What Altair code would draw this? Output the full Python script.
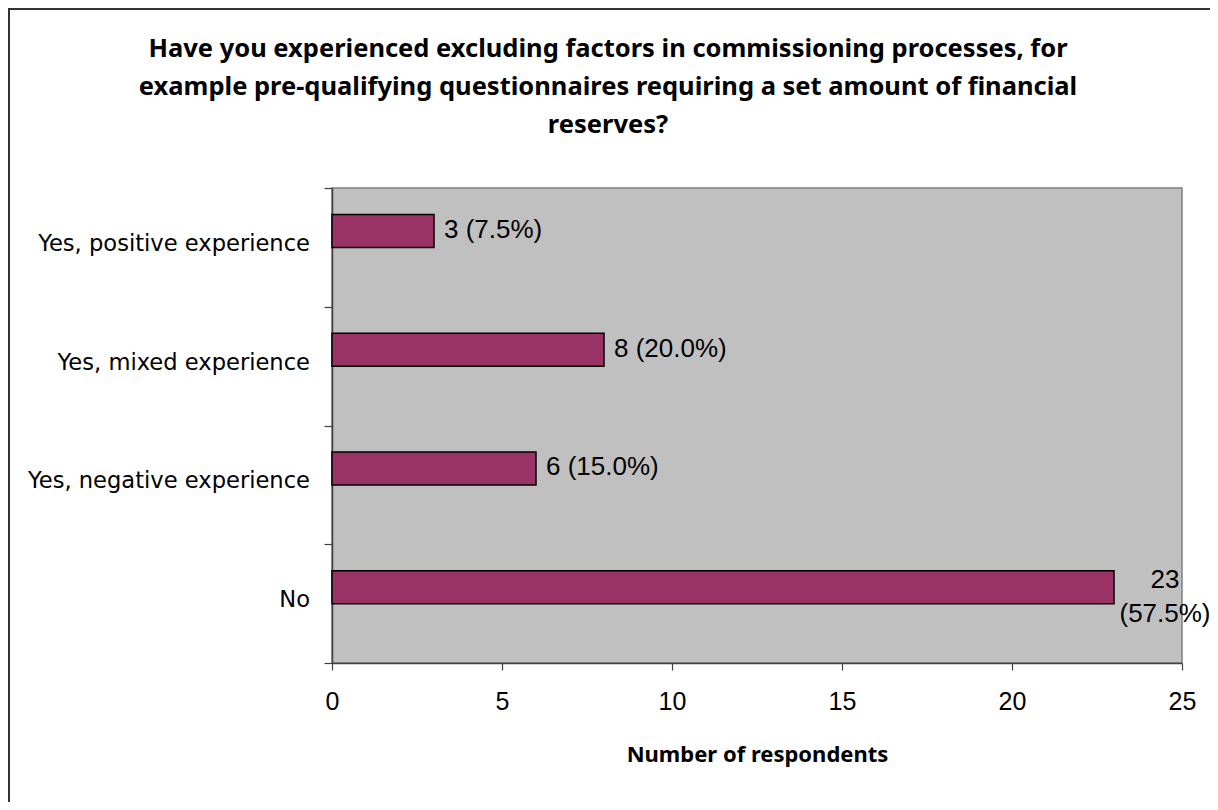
import altair as alt
import pandas as pd

# ---- data ----
categories = ["Yes, positive experience", "Yes, mixed experience",
              "Yes, negative experience", "No"]
counts = [3, 8, 6, 23]
percents = [7.5, 20.0, 15.0, 57.5]
wrapped = [False, False, False, True]
x_ticks = [0, 5, 10, 15, 20, 25]
title_lines = [
    "Have you experienced excluding factors in commissioning processes, for",
    "example pre-qualifying questionnaires requiring a set amount of financial",
    "reserves?",
]
x_title = "Number of respondents"

# ---- layout ----
W, H = 850, 475
PAD_L, PAD_T, PAD_R, PAD_B = 324, 180, 28, 139
BAR_COLOR = "#993366"
BAR_SHIFT = -16.5

labels = [f"{c} ({p:.1f}%)" for c, p in zip(counts, percents)]
labels_wrapped = [f"{c}\n({p:.1f}%)" for c, p in zip(counts, percents)]
df = pd.DataFrame({
    "category": categories,
    "count": counts,
    "label": labels,
    "label_wrapped": labels_wrapped,
    "wrapped": wrapped,
})

y_enc = alt.Y("category:N", sort=categories,
              scale=alt.Scale(paddingInner=0, paddingOuter=0),
              axis=alt.Axis(title=None, labels=False, domain=True, ticks=True,
                            tickBand="extent", tickSize=8,
                            tickColor="#404040", domainColor="#404040",
                            domainWidth=1.5, tickWidth=1.2, grid=False))
x_enc = alt.X("count:Q", scale=alt.Scale(domain=[0, 25], nice=False, zero=True),
              axis=alt.Axis(values=x_ticks, title=x_title, grid=False,
                            tickSize=7, tickColor="#404040",
                            domainColor="#404040", domainWidth=1.5, tickWidth=1.2,
                            labelFont="Liberation Sans", labelFontSize=25,
                            labelColor="black", labelBaseline="alphabetic",
                            labelPadding=39, labelFlush=False,
                            titleFont="Noto Sans", titleFontSize=22,
                            titleFontWeight="bold", titleColor="black",
                            titleBaseline="alphabetic", titleY=98))

base = alt.Chart(df)

bars = base.mark_bar(size=33, color=BAR_COLOR, stroke="black", strokeWidth=1.5,
                     yOffset=BAR_SHIFT).encode(x=x_enc, y=y_enc)

text_plain = base.transform_filter("!datum.wrapped").mark_text(
    align="left", baseline="middle", dx=10, yOffset=BAR_SHIFT - 1,
    font="Liberation Sans", fontSize=26, color="black"
).encode(x="count:Q", y=alt.Y("category:N", sort=categories), text="label:N")

text_wrap = base.transform_filter("datum.wrapped").mark_text(
    align="center", baseline="alphabetic", dx=51, yOffset=BAR_SHIFT + 1,
    lineBreak="\n", lineHeight=34,
    font="Liberation Sans", fontSize=26, color="black"
).encode(x="count:Q", y=alt.Y("category:N", sort=categories), text="label_wrapped:N")

ylabels = base.mark_text(
    align="right", baseline="alphabetic", yOffset=3.5,
    font="DejaVu Sans", fontSize=22.6, color="black"
).encode(x=alt.value(-22), y=alt.Y("category:N", sort=categories), text="category:N")

title_df = pd.DataFrame({"t": ["\n".join(title_lines)]})
title = alt.Chart(title_df).mark_text(
    align="center", baseline="alphabetic", lineBreak="\n", lineHeight=38,
    font="Noto Sans", fontWeight="bold", fontSize=25.5, color="black"
).encode(x=alt.value(276), y=alt.value(-131), text="t:N")

frame_df = pd.DataFrame({"f": [0]})
frame_left = alt.Chart(frame_df).mark_rule(color="#333333", strokeWidth=2).encode(
    x=alt.value(-PAD_L + 1), y=alt.value(-PAD_T), y2=alt.value(H + PAD_B))
frame_top = alt.Chart(frame_df).mark_rule(color="#333333", strokeWidth=2).encode(
    y=alt.value(-PAD_T + 1), x=alt.value(-PAD_L), x2=alt.value(W + PAD_R))

chart = alt.layer(frame_left, frame_top, title, bars, text_plain, text_wrap, ylabels).properties(
    width=W, height=H,
    padding={"left": PAD_L, "top": PAD_T, "right": PAD_R, "bottom": PAD_B},
    autosize=alt.AutoSizeParams(type="none"),
    background="white",
).configure_view(fill="#C0C0C0", stroke="#808080", strokeWidth=1.5)

chart.save("out.html", embed_options={"renderer": "svg", "actions": False})
